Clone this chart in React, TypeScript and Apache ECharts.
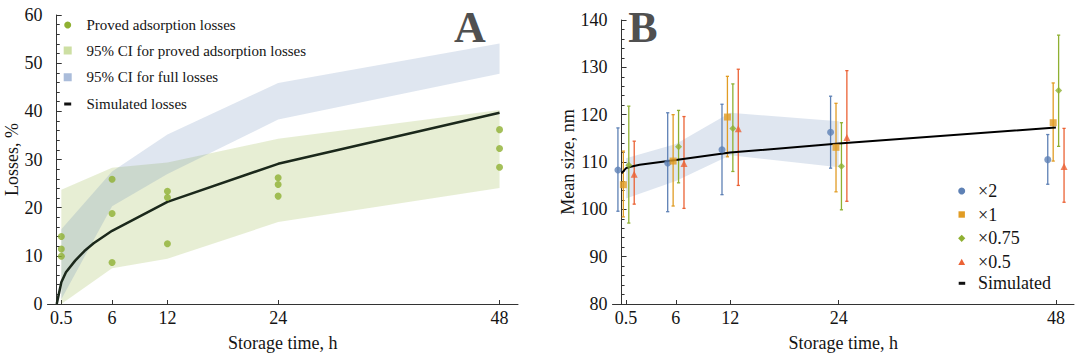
import React, { useEffect, useRef } from "react";
import * as echarts from "echarts";

const FONT = '"Liberation Serif", "Times New Roman", serif';

// ---------- Panel A data ----------
const timeTicks = [0.5, 6, 12, 24, 48];
const provedTimes = [0.5, 6, 12, 24, 48];
const provedLosses = [
  [14.0, 11.4, 9.9],
  [25.9, 18.8, 8.6],
  [23.4, 22.1, 12.5],
  [26.2, 24.8, 22.4],
  [36.2, 32.3, 28.4],
];
const bandTimes = [0.5, 6, 12, 24, 48];
const provedUpper = [23.7, 28.3, 29.4, 34.3, 40.3];
const provedLower = [0, 7.4, 9.4, 17.0, 24.1];
const fullUpper = [15.5, 27.5, 35.2, 45.9, 54.1];
const fullLower = [1.0, 20.3, 27.0, 38.3, 47.8];
const simTimesA = [0, 0.5, 1, 2, 3, 4, 6, 12, 24, 48];
const simLossesA = [0, 4.5, 6.6, 9.0, 11.0, 12.6, 15.2, 21.2, 29.1, 39.7];

// ---------- Panel B data ----------
const sizeTimes = [0.5, 6, 12, 24, 48];
const groupOffsets = [-0.9, -0.3, 0.3, 0.9];
const seriesNamesB = ["×2", "×1", "×0.75", "×0.5"];
const meanX2 = [108.3, 109.8, 112.6, 116.3, 110.5];
const lowX2 = [99.6, 99.5, 103.1, 108.7, 105.3];
const highX2 = [117.2, 120.4, 122.2, 123.9, 115.8];
const meanX1 = [105.2, 110.2, 119.5, 113.1, 118.3];
const lowX1 = [98.4, 100.7, 111.1, 103.7, 110.2];
const highX1 = [112.3, 120.0, 128.1, 122.4, 126.7];
const meanX075 = [109.3, 113.2, 117.1, 109.1, 125.1];
const lowX075 = [97.1, 105.6, 108.0, 99.9, 113.3];
const highX075 = [121.8, 120.9, 126.5, 118.3, 136.8];
const meanX05 = [107.4, 109.7, 117.0, 115.2, 109.05];
const lowX05 = [101.1, 100.2, 105.05, 101.7, 101.5];
const highX05 = [114.4, 119.6, 129.6, 129.3, 117.1];
const sizeBandTimes = [0.5, 6, 12, 24];
const sizeBandUpper = [110.8, 113.8, 120.4, 118.6];
const sizeBandLower = [102.3, 106.0, 111.4, 108.9];
const simTimesB = [0, 0.5, 1, 2, 6, 12, 24, 48];
const simSizeB = [107.6, 108.7, 109.0, 109.4, 110.4, 112.0, 113.9, 117.3];

const BLUE = "#5E81B5";
const ORANGE = "#E19C24";
const GREEN = "#8FB032";
const RED = "#EB6235";
const AXIS = "#333333";
const TXT = "#141414";

function bandSeries(xi: number, times: number[], up: number[], lo: number[], fill: string, name: string) {
  return {
    type: "custom",
    name,
    xAxisIndex: xi,
    yAxisIndex: xi,
    z: 1,
    silent: true,
    data: [[times[0], up[0]]],
    encode: { x: 0, y: 1 },
    renderItem: (_p: any, api: any) => {
      const pts: number[][] = [];
      for (let i = 0; i < times.length; i++) pts.push(api.coord([times[i], up[i]]));
      for (let i = times.length - 1; i >= 0; i--) pts.push(api.coord([times[i], lo[i]]));
      return { type: "polygon", shape: { points: pts }, style: { fill } };
    },
  };
}

function errorSeries(name: string, times: number[], off: number, lo: number[], hi: number[], color: string) {
  return {
    type: "custom",
    name: name + " error",
    xAxisIndex: 1,
    yAxisIndex: 1,
    z: 3,
    data: times.map((t, i) => [t + off, lo[i], hi[i]]),
    encode: { x: 0, y: [1, 2] },
    renderItem: (_p: any, api: any) => {
      const x = api.value(0);
      const a = api.coord([x, api.value(1)]);
      const b = api.coord([x, api.value(2)]);
      const c = 1.6;
      const st = { stroke: color, lineWidth: 1.3 };
      return {
        type: "group",
        children: [
          { type: "line", shape: { x1: a[0], y1: a[1], x2: b[0], y2: b[1] }, style: st },
          { type: "line", shape: { x1: a[0] - c, y1: a[1], x2: a[0] + c, y2: a[1] }, style: st },
          { type: "line", shape: { x1: b[0] - c, y1: b[1], x2: b[0] + c, y2: b[1] }, style: st },
        ],
      };
    },
  };
}

function xAxisCfg(gi: number) {
  return {
    type: "value",
    gridIndex: gi,
    min: -1,
    max: 50,
    axisLine: { show: true, lineStyle: { color: AXIS, width: 1 } },
    axisTick: { show: true, inside: true, length: 4, customValues: timeTicks, lineStyle: { color: AXIS } },
    axisLabel: { customValues: timeTicks, fontFamily: FONT, fontSize: 18, color: TXT, margin: 5 },
    splitLine: { show: false },
    name: "Storage time, h",
    nameLocation: "middle",
    nameGap: 30,
    nameTextStyle: { fontFamily: FONT, fontSize: 18, color: TXT },
  };
}

function yAxisCfg(gi: number, min: number, max: number, name: string, gap: number) {
  return {
    type: "value",
    gridIndex: gi,
    min,
    max,
    interval: 10,
    axisLine: { show: true, lineStyle: { color: AXIS, width: 1 } },
    axisTick: { show: true, inside: true, length: 5, lineStyle: { color: AXIS } },
    minorTick: { show: true, splitNumber: 5, length: 3, lineStyle: { color: AXIS } },
    axisLabel: { fontFamily: FONT, fontSize: 18, color: TXT, margin: 5 },
    splitLine: { show: false },
    minorSplitLine: { show: false },
    name,
    nameLocation: "middle",
    nameGap: gap,
    nameTextStyle: { fontFamily: FONT, fontSize: 18, color: TXT },
  };
}

function legendText(x: number, y: number, text: string, size: number) {
  return {
    type: "text",
    x,
    y,
    style: { text, fontFamily: FONT, fontSize: size, fill: TXT, verticalAlign: "middle", align: "left" },
  };
}

export default function App() {
  const ref = useRef<HTMLDivElement>(null);
  useEffect(() => {
    if (!ref.current) return;
    const chart = echarts.init(ref.current, undefined, { renderer: "svg" });

    const provedData: number[][] = [];
    provedTimes.forEach((t, i) => provedLosses[i].forEach((v) => provedData.push([t, v])));

    const means = [meanX2, meanX1, meanX075, meanX05];
    const lows = [lowX2, lowX1, lowX075, lowX05];
    const highs = [highX2, highX1, highX075, highX05];
    const colors = [BLUE, ORANGE, GREEN, RED];
    const symbols = ["circle", "rect", "diamond", "triangle"];
    const symSizes = [7, 7, 7, 7];

    const seriesB: any[] = [];
    seriesNamesB.forEach((n, k) => {
      seriesB.push(errorSeries(n, sizeTimes, groupOffsets[k], lows[k], highs[k], colors[k]));
    });
    seriesB.push({
      type: "line",
      name: "Simulated",
      xAxisIndex: 1,
      yAxisIndex: 1,
      z: 4,
      showSymbol: false,
      data: simTimesB.map((t, i) => [t, simSizeB[i]]),
      lineStyle: { color: "#000", width: 2 },
    });
    seriesNamesB.forEach((n, k) => {
      seriesB.push({
        type: "scatter",
        name: n,
        xAxisIndex: 1,
        yAxisIndex: 1,
        z: 5,
        symbol: symbols[k],
        symbolSize: symSizes[k],
        itemStyle: { color: colors[k] },
        data: sizeTimes.map((t, i) => [t + groupOffsets[k], means[k][i]]),
      });
    });

    const lx = 961.7;
    const ly = [191, 214.5, 238.3, 262.3, 283.3];

    chart.setOption({
      animation: false,
      backgroundColor: "#ffffff",
      grid: [
        { left: 47.5, top: 15, width: 470.5, height: 290 },
        { left: 612.5, top: 20, width: 461.5, height: 285 },
      ],
      xAxis: [xAxisCfg(0), xAxisCfg(1)],
      yAxis: [yAxisCfg(0, 0, 60, "Losses, %", 24), yAxisCfg(1, 80, 140, "Mean size, nm", 34)],
      series: [
        bandSeries(0, bandTimes, provedUpper, provedLower, "rgba(143,176,50,0.21)", "95% CI for proved adsorption losses"),
        bandSeries(0, bandTimes, fullUpper, fullLower, "rgba(94,129,181,0.2)", "95% CI for full losses"),
        {
          type: "line",
          name: "Simulated losses",
          xAxisIndex: 0,
          yAxisIndex: 0,
          z: 3,
          showSymbol: false,
          data: simTimesA.map((t, i) => [t, simLossesA[i]]),
          lineStyle: { color: "#1b281b", width: 2.5 },
        },
        {
          type: "scatter",
          name: "Proved adsorption losses",
          xAxisIndex: 0,
          yAxisIndex: 0,
          z: 4,
          symbol: "circle",
          symbolSize: 7,
          itemStyle: { color: GREEN },
          data: provedData,
        },
        bandSeries(1, sizeBandTimes, sizeBandUpper, sizeBandLower, "rgba(94,129,181,0.2)", "Size band"),
        ...seriesB,
      ],
      graphic: [
        { type: "text", x: 470, y: 27, style: { text: "A", fontFamily: FONT, fontSize: 44, fontWeight: "bold", fill: "#505050", align: "center", verticalAlign: "middle" } },
        { type: "text", x: 643, y: 27, style: { text: "B", fontFamily: FONT, fontSize: 44, fontWeight: "bold", fill: "#505050", align: "center", verticalAlign: "middle" } },
        // legend A
        { type: "circle", shape: { cx: 67.7, cy: 25, r: 3.5 }, style: { fill: GREEN } },
        { type: "rect", shape: { x: 63.7, y: 46.5, width: 8, height: 8 }, style: { fill: "#cddfa3" } },
        { type: "rect", shape: { x: 63.7, y: 73.3, width: 8, height: 8 }, style: { fill: "#aabcda" } },
        { type: "rect", shape: { x: 64.2, y: 102.5, width: 7, height: 3 }, style: { fill: "#111" } },
        legendText(86.5, 25, "Proved adsorption losses", 15),
        legendText(86.5, 50.5, "95% CI for proved adsorption losses", 15),
        legendText(86.5, 77.3, "95% CI for full losses", 15),
        legendText(86.5, 104, "Simulated losses", 15),
        // legend B
        { type: "circle", shape: { cx: lx, cy: ly[0], r: 3.5 }, style: { fill: BLUE } },
        { type: "rect", shape: { x: lx - 3.2, y: ly[1] - 3.2, width: 6.4, height: 6.4 }, style: { fill: ORANGE } },
        { type: "polygon", shape: { points: [[lx, ly[2] - 3.6], [lx + 3.6, ly[2]], [lx, ly[2] + 3.6], [lx - 3.6, ly[2]]] }, style: { fill: GREEN } },
        { type: "polygon", shape: { points: [[lx, ly[3] - 3.6], [lx + 3.4, ly[3] + 2.6], [lx - 3.4, ly[3] + 2.6]] }, style: { fill: RED } },
        { type: "rect", shape: { x: lx - 3, y: ly[4] - 1.5, width: 6.5, height: 3 }, style: { fill: "#111" } },
        legendText(978, ly[0], "×2", 18),
        legendText(978, ly[1], "×1", 18),
        legendText(978, ly[2], "×0.75", 18),
        legendText(978, ly[3], "×0.5", 18),
        legendText(978, ly[4], "Simulated", 18),
      ],
    });
    return () => chart.dispose();
  }, []);
  return <div ref={ref} style={{ position: "fixed", left: 0, top: 0, width: 1078, height: 357 }} />;
}
